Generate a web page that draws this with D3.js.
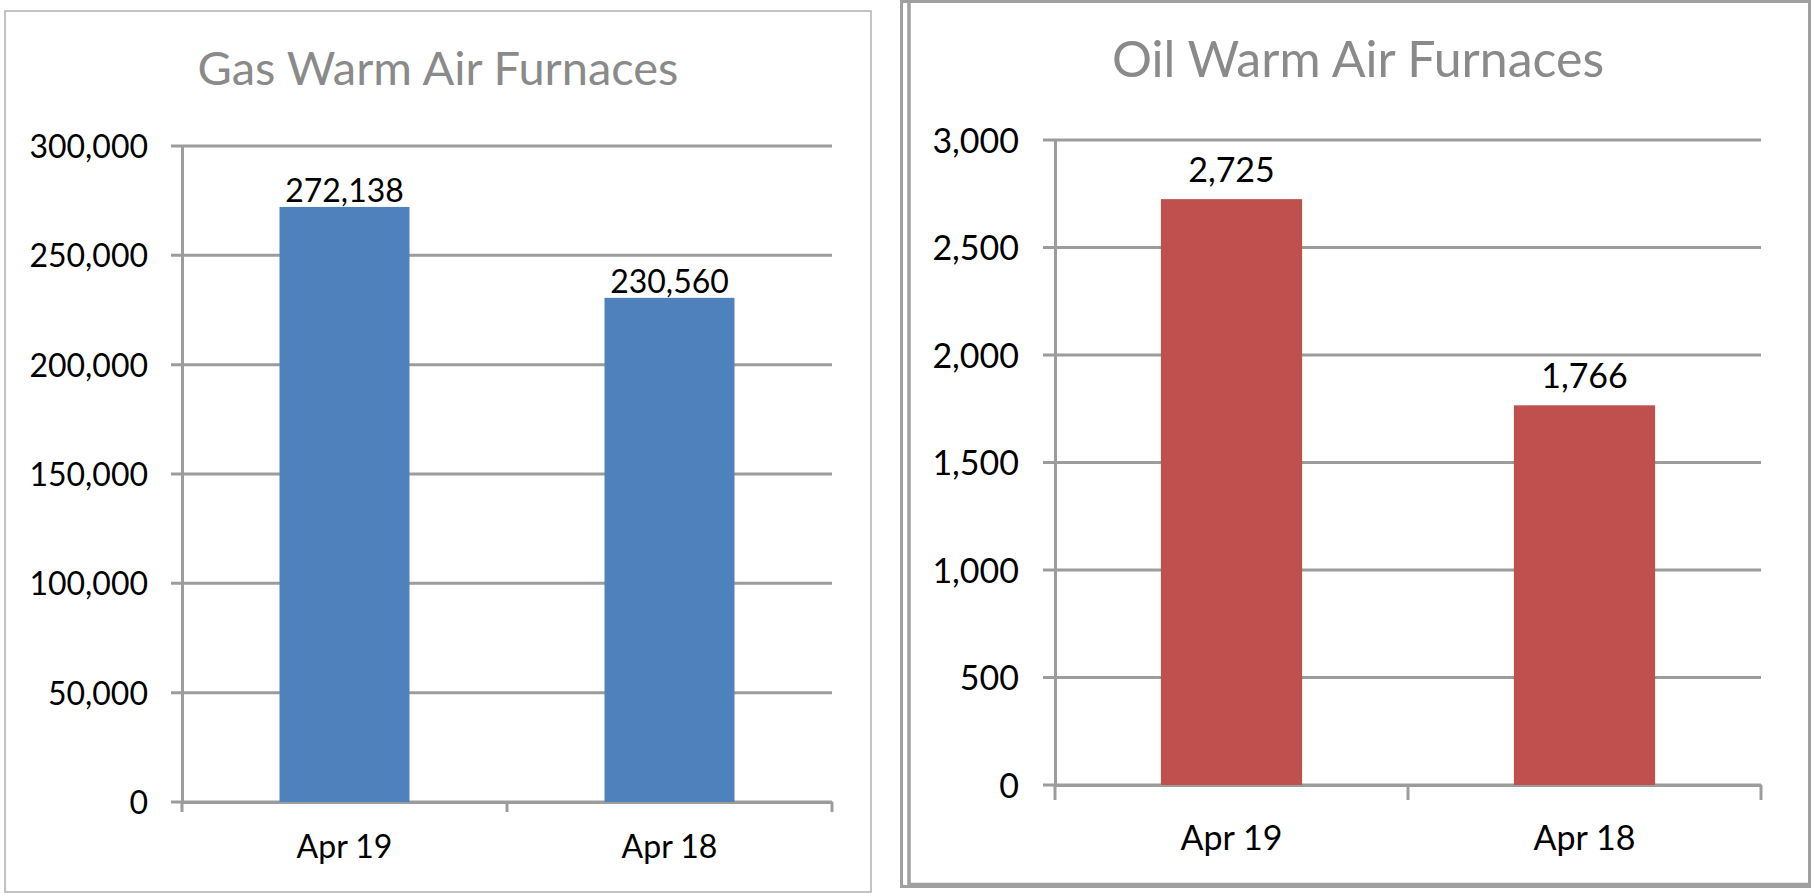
<!DOCTYPE html>
<html>
<head>
<meta charset="utf-8">
<script src="https://cdn.jsdelivr.net/npm/d3@7"></script>
<style>
    body { margin: 0; background: #fff; }
    svg { display: block; font-family: Lato, 'Open Sans', sans-serif; }
    .grid line, .catTicks line { stroke: #9c9c9c; stroke-width: 3; }
    .axis path { stroke: #9c9c9c; stroke-width: 3; }
    .axis text, .barLabel { fill: #000; font-family: Lato, 'Open Sans', sans-serif; }
    .title { fill: #8a8a8a; }
</style>
</head>
<body>
<svg id="chart" width="1811" height="893"></svg>
<script>
// Chart data
const categories = ['Apr 19', 'Apr 18'];
const gasValues = [272138, 230560];
const oilValues = [2725, 1766];
const gasTicks = [0, 50000, 100000, 150000, 200000, 250000, 300000];
const oilTicks = [0, 500, 1000, 1500, 2000, 2500, 3000];
const gasTitle = 'Gas Warm Air Furnaces';
const oilTitle = 'Oil Warm Air Furnaces';

// Reusable bar chart, set up through accessors
function barchart() {

    let margin = { top: 0, left: 0 },
        width = 600,
        height = 600,
        ticks = [],
        color = '#4f81bd',
        fontSize = 32,
        tickOut = 11,
        labelPad = 34,
        catTick = 10,
        xLabelOffset = 56,
        labelGap = 5,
        xValue = d => d[0],
        yValue = d => d[1],
        xScale = d3.scaleBand(),
        yScale = d3.scaleLinear();

    function chart(svg, data) {
        let g = svg.append('g')
            .attr('transform', 'translate(' + margin.left + ',' + margin.top + ')');

        xScale.domain(data.map(xValue)).range([0, width]).padding(0);
        yScale.domain([0, d3.max(ticks)]).range([height, 0]);

        // Horizontal gridlines, with the small tick stub left of the axis
        g.append('g')
            .attr('class', 'grid')
            .selectAll('line')
            .data(ticks)
            .join('line')
            .attr('x1', -tickOut)
            .attr('x2', width)
            .attr('y1', d => yScale(d))
            .attr('y2', d => yScale(d));

        // Y axis
        g.append('g')
            .attr('class', 'axis')
            .call(d3.axisLeft(yScale)
                .tickValues(ticks)
                .tickFormat(d3.format(','))
                .tickSize(0)
                .tickPadding(labelPad))
            .selectAll('text')
            .style('font-size', fontSize + 'px')
            .attr('dy', '0.36em');

        // X axis with category labels
        let xAxis = g.append('g')
            .attr('class', 'axis')
            .attr('transform', 'translate(0,' + height + ')')
            .call(d3.axisBottom(xScale).tickSize(0));

        xAxis.selectAll('text')
            .style('font-size', fontSize + 'px')
            .attr('y', xLabelOffset)
            .attr('dy', 0);

        // Tick marks sit between the categories
        let bounds = xScale.domain().map(d => xScale(d)).concat([width]);
        g.append('g')
            .attr('class', 'catTicks')
            .selectAll('line')
            .data(bounds)
            .join('line')
            .attr('x1', d => d)
            .attr('x2', d => d)
            .attr('y1', height)
            .attr('y2', height + catTick);

        // Bars
        let barW = xScale.bandwidth() * 0.4;
        g.append('g')
            .selectAll('rect')
            .data(data)
            .join('rect')
            .attr('x', d => xScale(xValue(d)) + (xScale.bandwidth() - barW) / 2)
            .attr('y', d => yScale(yValue(d)))
            .attr('width', barW)
            .attr('height', d => height - yScale(yValue(d)))
            .attr('fill', color);

        // Value labels
        g.append('g')
            .selectAll('text')
            .data(data)
            .join('text')
            .attr('class', 'barLabel')
            .style('font-size', fontSize + 'px')
            .attr('text-anchor', 'middle')
            .attr('x', d => xScale(xValue(d)) + xScale.bandwidth() / 2)
            .attr('y', d => yScale(yValue(d)) - labelGap)
            .text(d => d3.format(',')(yValue(d)));

        return chart;
    }

    chart.margin = function(_) {
        if (!arguments.length) return margin;
        margin = _;
        return chart;
    };

    chart.width = function(_) {
        if (!arguments.length) return width;
        width = _;
        return chart;
    };

    chart.height = function(_) {
        if (!arguments.length) return height;
        height = _;
        return chart;
    };

    chart.ticks = function(_) {
        if (!arguments.length) return ticks;
        ticks = _;
        return chart;
    };

    chart.color = function(_) {
        if (!arguments.length) return color;
        color = _;
        return chart;
    };

    chart.fontSize = function(_) {
        if (!arguments.length) return fontSize;
        fontSize = _;
        return chart;
    };

    chart.tickOut = function(_) {
        if (!arguments.length) return tickOut;
        tickOut = _;
        return chart;
    };

    chart.labelPad = function(_) {
        if (!arguments.length) return labelPad;
        labelPad = _;
        return chart;
    };

    chart.catTick = function(_) {
        if (!arguments.length) return catTick;
        catTick = _;
        return chart;
    };

    chart.xLabelOffset = function(_) {
        if (!arguments.length) return xLabelOffset;
        xLabelOffset = _;
        return chart;
    };

    chart.labelGap = function(_) {
        if (!arguments.length) return labelGap;
        labelGap = _;
        return chart;
    };

    return chart;
}

const svg = d3.select('#chart');

// Left panel frame
svg.append('rect')
    .attr('x', 5).attr('y', 11)
    .attr('width', 866).attr('height', 881)
    .attr('fill', 'none')
    .attr('stroke', '#b0b0b0')
    .attr('stroke-width', 1.5);

// Right panel double frame
svg.append('rect')
    .attr('x', 901.5).attr('y', 1.5)
    .attr('width', 908).attr('height', 885)
    .attr('fill', 'none')
    .attr('stroke', '#a0a0a0')
    .attr('stroke-width', 3);
svg.append('path')
    .attr('d', 'M909,3V884.5H1809')
    .attr('fill', 'none')
    .attr('stroke', '#a0a0a0')
    .attr('stroke-width', 3.5);

// Titles
svg.append('text')
    .attr('class', 'title')
    .style('font-size', '47px')
    .attr('x', 438).attr('y', 85)
    .attr('text-anchor', 'middle')
    .text(gasTitle);

svg.append('text')
    .attr('class', 'title')
    .style('font-size', '50px')
    .attr('x', 1358).attr('y', 77)
    .attr('text-anchor', 'middle')
    .text(oilTitle);

const gasData = categories.map((c, i) => [c, gasValues[i]]);
const oilData = categories.map((c, i) => [c, oilValues[i]]);

barchart()
    .margin({ left: 182, top: 146 })
    .width(650)
    .height(656)
    .ticks(gasTicks)
    .color('#4f81bd')
    .fontSize(32)
    .tickOut(11)
    .labelPad(34)
    .catTick(10)
    .xLabelOffset(56)
    .labelGap(5)(svg, gasData);

barchart()
    .margin({ left: 1055, top: 140 })
    .width(706)
    .height(645)
    .ticks(oilTicks)
    .color('#c0504d')
    .fontSize(34)
    .tickOut(12)
    .labelPad(36)
    .catTick(15)
    .xLabelOffset(65)
    .labelGap(17)(svg, oilData);
</script>
</body>
</html>
